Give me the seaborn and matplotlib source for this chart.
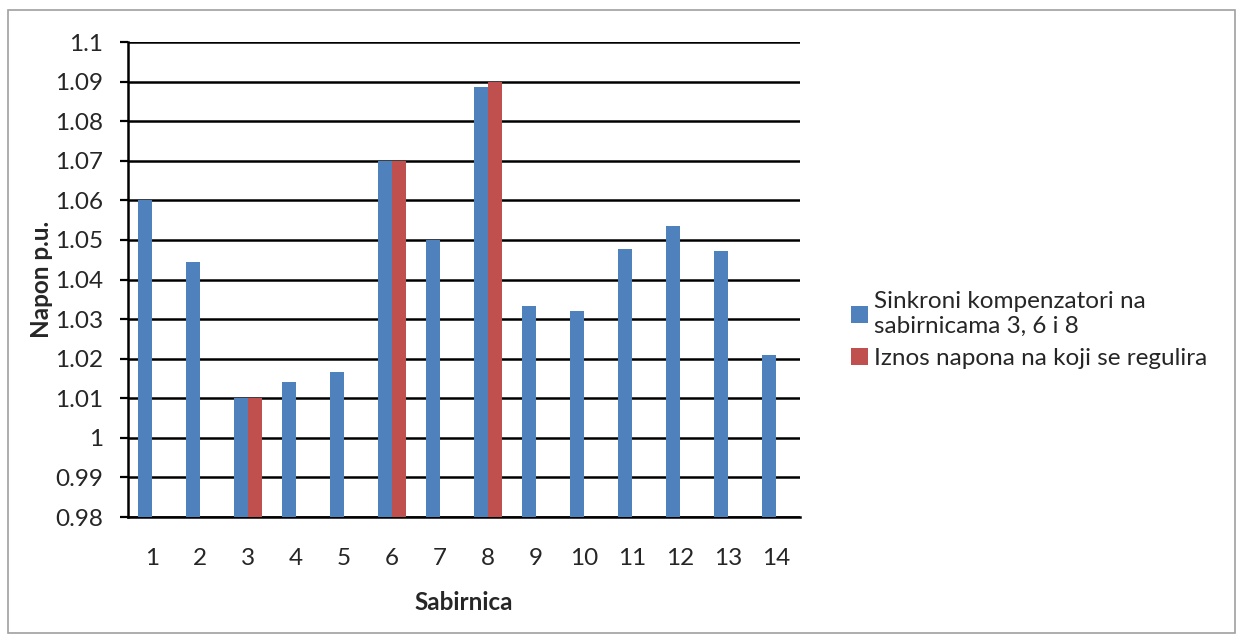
import matplotlib
matplotlib.use("Agg")
import matplotlib.pyplot as plt
import seaborn as sns
import pandas as pd
import numpy as np
from matplotlib.patches import Rectangle, Patch

categories = [str(i) for i in range(1, 15)]
sinkroni = [1.060, 1.0445, 1.010, 1.014, 1.0166, 1.070, 1.050, 1.0887,
            1.0333, 1.032, 1.0477, 1.0535, 1.0473, 1.021]
iznos = [np.nan, np.nan, 1.010, np.nan, np.nan, 1.070, np.nan, 1.090,
         np.nan, np.nan, np.nan, np.nan, np.nan, np.nan]
series_names = ["Sinkroni kompenzatori na\nsabirnicama 3, 6 i 8",
                "Iznos napona na koji se regulira"]
yticks = [0.98, 0.99, 1.0, 1.01, 1.02, 1.03, 1.04, 1.05, 1.06, 1.07, 1.08, 1.09, 1.1]
ytick_labels = ["0.98", "0.99", "1", "1.01", "1.02", "1.03", "1.04", "1.05",
                "1.06", "1.07", "1.08", "1.09", "1.1"]
colors = ["#4F81BD", "#C0504D"]

df = pd.DataFrame({
    "Sabirnica": categories * 2,
    "Napon": sinkroni + iznos,
    "Serija": [series_names[0]] * 14 + [series_names[1]] * 14,
})

sns.set_style("white")
plt.rcParams['font.family'] = ['Lato', 'DejaVu Sans']
FS = 17.5

fig = plt.figure(figsize=(12.43, 6.41), dpi=100)
ax = fig.add_axes([128/1243, 1 - 517/641, (800-128)/1243, (517-42)/641])

sns.barplot(data=df, x="Sabirnica", y="Napon", hue="Serija", order=categories,
            hue_order=series_names, palette=colors, width=0.583, ax=ax,
            errorbar=None, saturation=1, linewidth=0, zorder=3)

ax.set_ylim(0.98, 1.1)
ax.set_xlim(-0.5, 13.5)
ax.set_yticks(yticks)
ax.set_yticklabels(ytick_labels, fontsize=FS)
ax.set_xticks(range(14))
ax.set_xticklabels(categories, fontsize=FS)
ax.set_xticks(np.arange(-0.5, 14, 1), minor=True)
ax.tick_params(axis='x', which='major', length=0, pad=22)
ax.tick_params(axis='x', which='minor', length=6, width=1.6, color='black', direction='out')
ax.tick_params(axis='y', which='major', length=6, width=1.6, color='black', direction='out', left=True, pad=12)

ax.grid(axis='y', color='black', linewidth=1.8, zorder=0)
ax.set_axisbelow(True)
for s in ['top', 'right']:
    ax.spines[s].set_visible(False)
for s in ['left', 'bottom']:
    ax.spines[s].set_color('black')
    ax.spines[s].set_linewidth(1.8)

ax.set_xlabel("Sabirnica", fontsize=FS, fontweight='bold', labelpad=16)
ax.set_ylabel("Napon p.u.", fontsize=FS, fontweight='bold', labelpad=1)

ax.legend_.remove()
handles = [Patch(facecolor=c, edgecolor='none') for c in colors]
fig.legend(handles, series_names, loc='center left', bbox_to_anchor=(829/1243, 1 - 330/641),
           frameon=False, fontsize=FS, handlelength=0.7, handleheight=0.7,
           handletextpad=0.25, labelspacing=0.45)

fig.patches.append(Rectangle((8/1243, 8/641), 1 - 16/1243, 1 - 18/641, transform=fig.transFigure,
                             fill=False, edgecolor='#A0A0A0', linewidth=1.2))

fig.savefig("out.png", dpi=100)
